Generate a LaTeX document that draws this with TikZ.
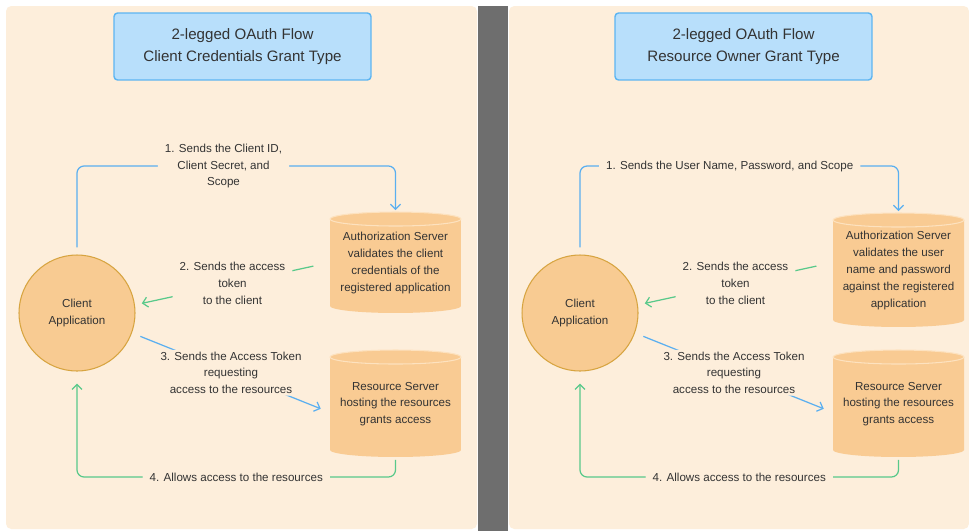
\documentclass[tikz,border=0pt]{standalone}
\usepackage{fontspec}
\setmainfont{Liberation Sans}
\usetikzlibrary{arrows.meta,calc}

\definecolor{peach}{HTML}{FDEEDB}
\definecolor{bargray}{HTML}{6E6E6E}
\definecolor{ink}{HTML}{333333}
\definecolor{titlefill}{HTML}{B8DFFB}
\definecolor{titleline}{HTML}{5CB5F2}
\definecolor{clientfill}{HTML}{F8CB92}
\definecolor{clientline}{HTML}{D7A440}
\definecolor{cylfill}{HTML}{F9CB93}
\definecolor{cylrim}{HTML}{FDE2BF}
\definecolor{flowblue}{HTML}{5AAFF0}
\definecolor{flowgreen}{HTML}{58C98A}

\pgfdeclarelayer{panel}
\pgfdeclarelayer{body}
\pgfsetlayers{panel,body,main}

% server text sits a little below the middle (top lid)
\newcommand\cyltext[1]{\raisebox{-0.16cm}{\begin{tabular}{@{}c@{}}#1\end{tabular}}}
% upright cylinder drawn behind a server node
\newcommand\cylbody[1]{%
  \begin{pgfonlayer}{body}
    \fill[cylfill] ([yshift=-0.14cm]#1.north west) -- ([yshift=0.14cm]#1.south west)
      arc[start angle=180, end angle=360, x radius=1.31cm, y radius=0.14cm]
      -- ([yshift=-0.14cm]#1.north east) -- cycle;
    \draw[cylrim, fill=cylfill, line width=0.6pt] ([yshift=-0.14cm]#1.north)
      ellipse[x radius=1.31cm, y radius=0.14cm];
  \end{pgfonlayer}}

\begin{document}
\begin{tikzpicture}[
    x=0.02cm, y=-0.02cm,
    every node/.style={text=ink},
    headbox/.style={draw=titleline, fill=titlefill, line width=0.8pt, rounded corners=2pt,
                    minimum width=5.14cm, minimum height=1.34cm, align=center,
                    font=\fontsize{8.6}{12.5}\selectfont},
    client/.style={circle, draw=clientline, fill=clientfill, line width=0.6pt,
                   minimum size=2.32cm, inner sep=0pt, align=center,
                   font=\fontsize{6.6}{9.6}\selectfont},
    server/.style={rectangle, minimum width=2.62cm, inner sep=0pt, outer sep=0pt,
                   font=\fontsize{6.6}{9.6}\selectfont},
    lbl/.style={fill=peach, align=center, inner xsep=4pt, inner ysep=1pt,
                font=\fontsize{6.6}{9.6}\selectfont},
    bflow/.style={-{Straight Barb[length=1mm, width=2mm]}, line width=0.7pt,
                  draw=flowblue, rounded corners=4pt},
    gflow/.style={bflow, draw=flowgreen},
  ]
  \useasboundingbox (0,0) rectangle (969,531);

  % Panels and the divider bar
  \begin{pgfonlayer}{panel}
    \fill[white] (0,0) rectangle (969,531);
    \fill[peach, rounded corners=3pt] (6,6) rectangle (477,529);
    \fill[peach, rounded corners=3pt] (509,6) rectangle (969,529);
    \fill[bargray] (478,6) rectangle (508,531);
  \end{pgfonlayer}

  % Left half — client credentials grant
  \node[headbox] (t1) at (242.5,46.5) {2-legged OAuth Flow\\Client Credentials Grant Type};
  \node[client] (c1) at (77,313) {Client\\Application};
  \node[server, minimum height=2.02cm] (a1) at (395.5,262.5)
    {\cyltext{Authorization Server\\validates the client\\credentials of the\\registered application}};
  \node[server, minimum height=2.14cm] (r1) at (395.5,403.5)
    {\cyltext{Resource Server\\hosting the resources\\grants access}};
  \cylbody{a1} \cylbody{r1}

  \draw[bflow, shorten <=0.14cm, shorten >=0.04cm] (c1.north)
    |- node[lbl, pos=0.73] {1. Sends the Client ID,\\Client Secret, and\\Scope}
    ($(a1.north)+(0,-46)$) -- (a1.north);
  \draw[gflow, shorten <=0.34cm, shorten >=0.14cm] (a1.west)
    -- node[lbl] {2. Sends the access\\token\\to the client} (c1.8);
  \draw[bflow, shorten <=0.18cm, shorten >=0.2cm] (c1.-20)
    -- node[lbl] {3. Sends the Access Token\\requesting\\access to the resources}
    ([yshift=-0.18cm]r1.west);
  \draw[gflow, shorten <=0.06cm, shorten >=0.24cm] (r1.south) -- ++(0,20)
    -| node[lbl, pos=0.25] {4. Allows access to the resources} (c1.south);

  % Right half — resource owner grant
  \node[headbox] (t2) at (743.5,46.5) {2-legged OAuth Flow\\Resource Owner Grant Type};
  \node[client] (c2) at (580,313) {Client\\Application};
  \node[server, minimum height=2.28cm] (a2) at (898.5,270)
    {\cyltext{Authorization Server\\validates the user\\name and password\\against the registered\\application}};
  \node[server, minimum height=2.14cm] (r2) at (898.5,403.5)
    {\cyltext{Resource Server\\hosting the resources\\grants access}};
  \cylbody{a2} \cylbody{r2}

  \draw[bflow, shorten <=0.14cm, shorten >=0.04cm] (c2.north)
    |- node[lbl, pos=0.735] {1. Sends the User Name, Password, and Scope}
    ($(a2.north)+(0,-47)$) -- (a2.north);
  \draw[gflow, shorten <=0.34cm, shorten >=0.14cm] ([yshift=0.15cm]a2.west)
    -- node[lbl] {2. Sends the access\\token\\to the client} (c2.8);
  \draw[bflow, shorten <=0.18cm, shorten >=0.2cm] (c2.-20)
    -- node[lbl] {3. Sends the Access Token\\requesting\\access to the resources}
    ([yshift=-0.18cm]r2.west);
  \draw[gflow, shorten <=0.06cm, shorten >=0.24cm] (r2.south) -- ++(0,20)
    -| node[lbl, pos=0.25] {4. Allows access to the resources} (c2.south);

\end{tikzpicture}
\end{document}
